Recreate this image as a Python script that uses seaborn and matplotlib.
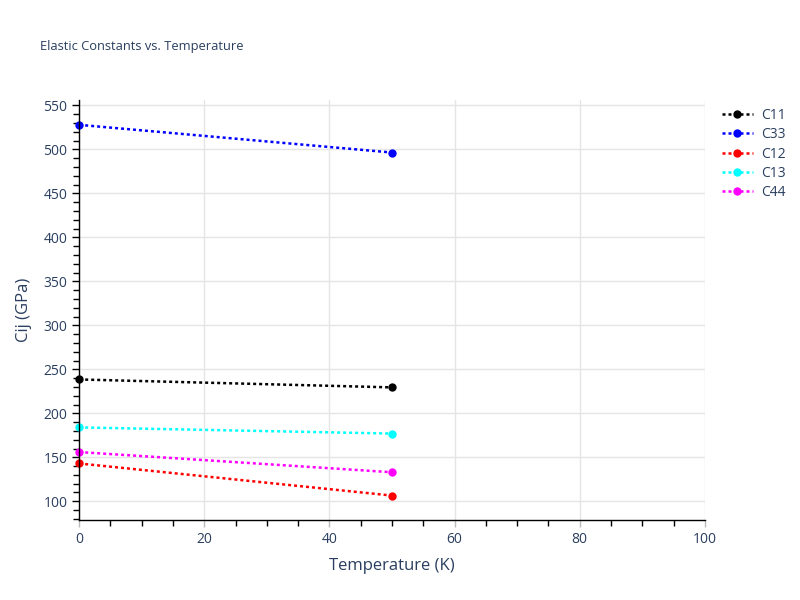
import matplotlib
matplotlib.use("Agg")
import matplotlib.pyplot as plt
import numpy as np
import pandas as pd
import seaborn as sns
from matplotlib.ticker import MultipleLocator

# data
temperature = [0, 50]
c11 = [238.5, 229.5]
c33 = [528.0, 496.5]
c12 = [143.0, 106.5]
c13 = [184.0, 177.0]
c44 = [156.0, 133.0]
series_names = ["C11", "C33", "C12", "C13", "C44"]
series_colors = ["black", "blue", "red", "cyan", "magenta"]

df = pd.DataFrame({"Temperature": temperature * 5,
                   "Cij": c11 + c33 + c12 + c13 + c44,
                   "name": np.repeat(series_names, len(temperature))})

sns.set_theme(style="white")
plt.rcParams["font.family"] = ["Open Sans", "DejaVu Sans"]
text_color = "#2a3f5f"

fig = plt.figure(figsize=(8, 6), dpi=100)
ax = fig.add_axes([0.099, 0.133, 0.782, 0.70])

sns.lineplot(data=df, x="Temperature", y="Cij", hue="name", hue_order=series_names,
             palette=series_colors, marker="o", markersize=6, markeredgewidth=0,
             linestyle=(0, (1.2, 1.2)), linewidth=1.8, ax=ax, clip_on=False)

ax.set_xlim(0, 100)
ax.set_ylim(78.5, 556)
ax.xaxis.set_major_locator(MultipleLocator(20))
ax.xaxis.set_minor_locator(MultipleLocator(5))
ax.yaxis.set_major_locator(MultipleLocator(50))
ax.yaxis.set_minor_locator(MultipleLocator(10))
ax.grid(True, which="major", color="#e5e5e5", linewidth=1)
ax.set_axisbelow(True)

for s in ["top", "right"]:
    ax.spines[s].set_visible(False)
for s in ["left", "bottom"]:
    ax.spines[s].set_color("black")
    ax.spines[s].set_linewidth(1)

ax.tick_params(axis="both", which="major", labelsize=10, labelcolor=text_color, length=5, width=1)
ax.tick_params(axis="x", which="major", color="#bbbbbb")
ax.tick_params(axis="y", which="major", color="black")
ax.tick_params(axis="both", which="minor", length=4, width=1, color="black")
ax.tick_params(left=True, bottom=True, which="both", direction="out")

ax.set_xlabel("Temperature (K)", fontsize=12, color=text_color, labelpad=8)
ax.set_ylabel("Cij (GPa)", fontsize=12, color=text_color, labelpad=8)

fig.text(0.05, 0.923, "Elastic Constants vs. Temperature", fontsize=9.3, color=text_color,
         ha="left", va="center")

handles, labels = ax.get_legend_handles_labels()
leg = ax.legend(handles, labels, loc="upper left", bbox_to_anchor=(1.01, 1.008), frameon=False,
                fontsize=10, handlelength=2.2, handletextpad=0.6, labelspacing=0.31,
                borderaxespad=0.4)
for t in leg.get_texts():
    t.set_color(text_color)

fig.savefig("out.png", dpi=100)
